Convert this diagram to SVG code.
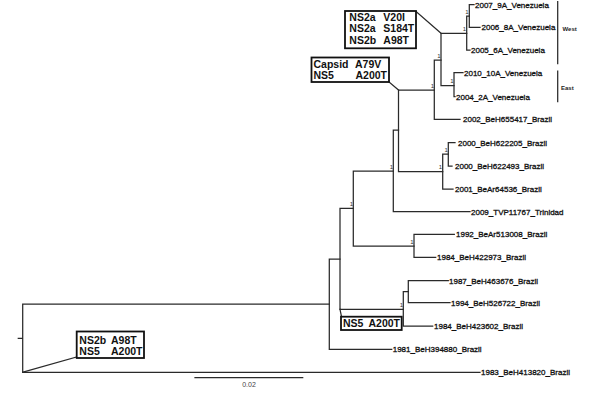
<svg xmlns="http://www.w3.org/2000/svg" width="600" height="408" viewBox="0 0 600 408">
<style>
.br{stroke:#2a2a2a;stroke-width:1.25;fill:none;stroke-linecap:square}
.box{fill:#fff;stroke:#111;stroke-width:1.8}
.bx{font-family:"Liberation Sans",Arial,sans-serif;font-size:10.5px;font-weight:bold;fill:#111}
.tip{font-family:"Liberation Sans",Arial,sans-serif;font-size:8px;fill:#111;stroke:#111;stroke-width:0.3}
.sup{font-family:"Liberation Sans",Arial,sans-serif;font-size:6px;fill:#333;text-anchor:end}
.grp{font-family:"Liberation Sans",Arial,sans-serif;font-size:6px;font-weight:bold;fill:#222}
.sc{font-family:"Liberation Sans",Arial,sans-serif;font-size:7px;fill:#444;text-anchor:middle}
</style>
<rect width="600" height="408" fill="#fff"/>
<g id="connectors">
<path class="br" d="M18.3,338.3H22.7 M22.7,304V372.3 M22.7,304H329.3 M22.7,372.3H480"/>
<path class="br" d="M329.3,259V349.3 M329.3,259H340 M329.3,349.3H391.7"/>
<path class="br" d="M340,208.3V309.3 M340,208.3H353.3 M340,309.3H403.3"/>
<path class="br" d="M403.3,291.7V326 M403.3,291.7H408.3 M403.3,326H432.7"/>
<path class="br" d="M408.3,280.7V302.7 M408.3,280.7H448.3 M408.3,302.7H450"/>
<path class="br" d="M353.3,171V246 M353.3,171H393.3 M353.3,246H414"/>
<path class="br" d="M414,234.3V257.3 M414,234.3H454.3 M414,257.3H435.7"/>
<path class="br" d="M393.3,130V211.7 M393.3,130H398.5 M393.3,211.7H470"/>
<path class="br" d="M398.5,90V171.7 M398.5,90H434.3 M398.5,171.7H442.7"/>
<path class="br" d="M442.7,154V189 M442.7,154H448.3 M442.7,189H453"/>
<path class="br" d="M448.3,142.7V166 M448.3,142.7H455 M448.3,166H452"/>
<path class="br" d="M434.3,60V119.3 M434.3,60H441 M434.3,119.3H460"/>
<path class="br" d="M441,33.3V85.7 M441,33.3H466.7 M441,85.7H454"/>
<path class="br" d="M454,72.7V96.7 M454,72.7H463 M454,96.7H455"/>
<path class="br" d="M466.7,16V50 M466.7,16H469.3 M466.7,50H470"/>
<path class="br" d="M469.3,4.7V27.3 M469.3,4.7H474 M469.3,27.3H480"/>
<path class="br" d="M416,11.5L441,33.3 M389,82L398.5,90 M340,309.3L341.5,316.7 M76.7,357L22.7,372.3"/>
</g>
<g id="support">
<text class="sup" x="468.5" y="13.5">1</text>
<text class="sup" x="466" y="30.5">1</text>
<text class="sup" x="440.5" y="57.5">1</text>
<text class="sup" x="453.5" y="83">1</text>
<text class="sup" x="434" y="87.5">1</text>
<text class="sup" x="442" y="169">1</text>
<text class="sup" x="447.8" y="151.5">1</text>
<text class="sup" x="393" y="168.5">1</text>
<text class="sup" x="353" y="205.8">1</text>
<text class="sup" x="413.5" y="243.8">1</text>
<text class="sup" x="403" y="306.8">1</text>
</g>
<g id="tips">
<text class="tip" x="475" y="7.7">2007_9A_Venezuela</text>
<text class="tip" x="481.5" y="30.3">2006_8A_Venezuela</text>
<text class="tip" x="471" y="53">2005_6A_Venezuela</text>
<text class="tip" x="464" y="75.7">2010_10A_Venezuela</text>
<text class="tip" x="456" y="99.7">2004_2A_Venezuela</text>
<text class="tip" x="463" y="122.3">2002_BeH655417_Brazil</text>
<text class="tip" x="458" y="145.7">2000_BeH622205_Brazil</text>
<text class="tip" x="455" y="169">2000_BeH622493_Brazil</text>
<text class="tip" x="455" y="192">2001_BeAr64536_Brazil</text>
<text class="tip" x="471" y="214.7">2009_TVP11767_Trinidad</text>
<text class="tip" x="456" y="237.3">1992_BeAr513008_Brazil</text>
<text class="tip" x="437" y="260.3">1984_BeH422973_Brazil</text>
<text class="tip" x="449" y="283.7">1987_BeH463676_Brazil</text>
<text class="tip" x="451" y="305.7">1994_BeH526722_Brazil</text>
<text class="tip" x="434" y="329">1984_BeH423602_Brazil</text>
<text class="tip" x="392.7" y="352.3">1981_BeH394880_Brazil</text>
<text class="tip" x="481" y="375.3">1983_BeH413820_Brazil</text>
</g>
<g id="box-ns2a">
<rect class="box" x="345" y="11" width="71" height="37.3"/>
<text class="bx" x="349.3" y="20.7">NS2a</text><text class="bx" x="383.3" y="20.7">V20I</text>
<text class="bx" x="349.3" y="32.3">NS2a</text><text class="bx" x="383.3" y="32.3">S184T</text>
<text class="bx" x="349.3" y="44">NS2b</text><text class="bx" x="383.3" y="44">A98T</text>
</g>
<g id="box-capsid">
<rect class="box" x="311.5" y="57.5" width="77.5" height="24.5"/>
<text class="bx" x="313.5" y="67.5">Capsid</text><text class="bx" x="355" y="67.5">A79V</text>
<text class="bx" x="313.5" y="78.8">NS5</text><text class="bx" x="355.5" y="78.8">A200T</text>
</g>
<g id="box-ns5">
<rect class="box" x="341" y="316.7" width="60.7" height="13.3"/>
<text class="bx" x="343" y="327.3">NS5</text><text class="bx" x="368.5" y="327.3">A200T</text>
</g>
<g id="box-root">
<rect class="box" x="76.7" y="331.5" width="67.3" height="26.5"/>
<text class="bx" x="79.3" y="343.5">NS2b</text><text class="bx" x="111" y="343.5">A98T</text>
<text class="bx" x="79.3" y="355">NS5</text><text class="bx" x="111" y="355">A200T</text>
</g>
<g id="groups">
<path class="br" d="M557.7,1.7V63.5 M557.7,71V101.5"/>
<text class="grp" x="562.5" y="31">West</text>
<text class="grp" x="561" y="90">East</text>
</g>
<g id="scale">
<path class="br" d="M195,377.7H302.7"/>
<text class="sc" x="249" y="386.5">0.02</text>
</g>
</svg>
